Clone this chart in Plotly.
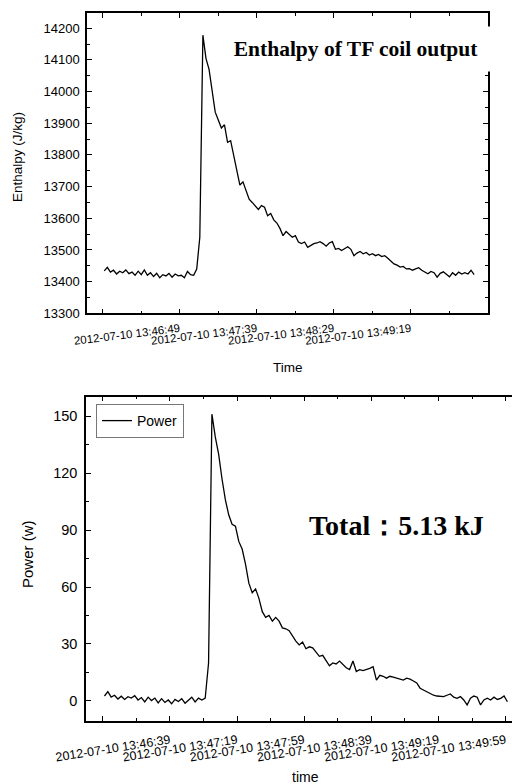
import pandas as pd
import plotly.graph_objects as go

# sample times: one reading every 2 s, 13:46:00 .. 13:50:00
times = pd.date_range("2012-07-10 13:46:00", "2012-07-10 13:50:00", freq="2s")

enthalpy = [
    13434, 13445, 13430, 13436, 13424, 13433, 13428, 13437, 13425, 13430,
    13420, 13433, 13422, 13437, 13420, 13428, 13416, 13426, 13412, 13422,
    13418, 13426, 13414, 13424, 13418, 13420, 13412, 13432, 13422, 13420,
    13440, 13540, 14178, 14105, 14070, 14000, 13935, 13910, 13885, 13895,
    13840, 13845, 13800, 13760, 13705, 13715, 13690, 13660, 13650, 13640,
    13628, 13640, 13635, 13608, 13615, 13595, 13585, 13568, 13545, 13558,
    13548, 13540, 13545, 13525, 13520, 13525, 13508, 13515, 13520, 13522,
    13526, 13520, 13512, 13522, 13526, 13502, 13505, 13498, 13503, 13510,
    13502, 13482, 13490, 13495, 13488, 13492, 13484, 13488, 13482, 13486,
    13479, 13482, 13474, 13465, 13456, 13452, 13446, 13448, 13440, 13441,
    13436, 13440, 13444, 13436, 13430, 13425, 13432, 13428, 13414, 13426,
    13431, 13422, 13415, 13428, 13420, 13430, 13424, 13428, 13424, 13436,
    13422,
]

power = [
    2.6, 4.9, 2.0, 3.0, 1.0, 2.5, 0.8, 2.2, 1.5, 2.8,
    0.5, 1.8, -0.5, 2.0, 0.2, 1.5, -1.0, 1.2, -0.8, 0.5,
    -1.5, 0.8, -0.3, 1.2, -1.2, 0.4, 2.0, -0.5, 1.5, 0.5,
    1.5, 20, 151, 139, 130, 117, 106, 98, 93, 92,
    84, 80, 72, 62, 57, 59, 54, 47, 44, 45,
    42, 44, 42, 38.5, 38, 37, 34, 31.5, 29.5, 31,
    27.5, 28.5, 28, 25.5, 23.5, 24, 21, 18.5, 20, 19.5,
    21, 19, 17.5, 16.5, 21, 15.5, 16.5, 16, 16.5, 17.2,
    18, 11, 13.5, 13, 12, 13, 12.5, 12, 11.5, 11,
    12, 11.5, 10.5, 9.5, 6.7, 5.8, 4.9, 3.8, 3.0, 2.6,
    2.4, 2.3, 3.0, 3.7, 2.0, 1.4, 2.3, 0.5, -2.1, 1.5,
    2.6, 2.0, -2.1, 0.5, 1.4, 0.5, 2.0, 0.8, 1.4, 2.6,
    -0.4,
]

top_ticks = ["2012-07-10 13:45:59", "2012-07-10 13:46:49", "2012-07-10 13:47:39",
             "2012-07-10 13:48:29", "2012-07-10 13:49:19"]
top_labels = ["", "2012-07-10 13:46:49", "2012-07-10 13:47:39",
              "2012-07-10 13:48:29", "2012-07-10 13:49:19"]
bottom_ticks = ["2012-07-10 13:45:59", "2012-07-10 13:46:39", "2012-07-10 13:47:19",
                "2012-07-10 13:47:59", "2012-07-10 13:48:39", "2012-07-10 13:49:19",
                "2012-07-10 13:49:59"]
bottom_labels = [""] + bottom_ticks[1:]

SANS = "Liberation Sans, Arial, sans-serif"
SERIF = "Liberation Serif, Times New Roman, serif"

# the page body adds an 8px margin, so the figure is 8px smaller on each axis
W, H, PAD = 512, 776, 8


def px(x):
    return (x - PAD) / W


def py(y):
    return 1 - (y - PAD) / H


fig = go.Figure()
fig.add_trace(go.Scatter(x=times, y=enthalpy, mode="lines", name="Enthalpy",
                         line=dict(color="black", width=1.3), showlegend=False,
                         xaxis="x", yaxis="y"))
fig.add_trace(go.Scatter(x=times, y=power, mode="lines", name="Power",
                         line=dict(color="black", width=1.3),
                         xaxis="x2", yaxis="y2"))


def axis(**kw):
    base = dict(showgrid=False, zeroline=False, showline=True, linecolor="black",
                linewidth=1.5, mirror="allticks", ticks="inside", ticklen=5,
                tickcolor="black", tickwidth=1.2, automargin=False)
    base.update(kw)
    return base


def label(text, x, y, size, family=SANS, angle=0, **kw):
    return dict(text=text, xref="paper", yref="paper", x=px(x), y=py(y),
                xanchor="center", yanchor="middle", showarrow=False,
                textangle=angle, font=dict(family=family, size=size), **kw)


fig.update_layout(
    width=W, height=H,
    margin=dict(l=0, r=0, t=0, b=0, autoexpand=False),
    paper_bgcolor="white", plot_bgcolor="white",
    font=dict(family=SANS, color="black"),
    xaxis=axis(domain=[px(87), px(488)], anchor="y", type="date",
               range=["2012-07-10 13:45:48.8", "2012-07-10 13:50:09"],
               tickmode="array", tickvals=top_ticks, ticktext=top_labels,
               tickangle=-7, tickfont=dict(size=11.5), ticklabelstandoff=3,
               minor=dict(tickmode="linear", tick0="2012-07-10 13:45:59", dtick=25000,
                          ticks="inside", ticklen=3, tickcolor="black")),
    yaxis=axis(domain=[py(313.3), py(13)], anchor="x", range=[13300, 14248],
               dtick=100, tick0=13300, tickformat="d", tickfont=dict(size=13),
               ticklabelstandoff=3,
               minor=dict(dtick=50, ticks="inside", ticklen=3, tickcolor="black")),
    xaxis2=axis(domain=[px(86), 1.0], anchor="y2", type="date",
                range=["2012-07-10 13:45:49", "2012-07-10 13:50:07.5"],
                tickmode="array", tickvals=bottom_ticks, ticktext=bottom_labels,
                tickangle=-9, tickfont=dict(size=12.5), ticklabelstandoff=6,
                minor=dict(tickmode="linear", tick0="2012-07-10 13:45:59", dtick=20000,
                           ticks="inside", ticklen=3, tickcolor="black")),
    yaxis2=axis(domain=[py(720.7), py(396.7)], anchor="x2", range=[-10.4, 160.2],
                dtick=30, tick0=0, tickformat="d", tickfont=dict(size=14.5),
                ticklabelstandoff=4,
                minor=dict(dtick=15, ticks="inside", ticklen=3, tickcolor="black")),
    legend=dict(x=px(96), y=py(404), xanchor="left", yanchor="top",
                bordercolor="#777777", borderwidth=1, bgcolor="white",
                font=dict(size=14), itemwidth=30),
    annotations=[
        label("<b>Enthalpy of TF coil output</b>", 355.5, 49, 21.5, family=SERIF,
              bgcolor="white", width=272, height=44, borderpad=0),
        label("<b>Total：5.13 kJ</b>", 396, 525, 28, family=SERIF),
        label("Enthalpy (J/kg)", 17.5, 157.5, 13.5, angle=-90),
        label("Time", 288, 367, 13.5),
        label("Power (w)", 27, 554, 15, angle=-90),
        label("time", 305, 777, 14),
    ],
)

fig.write_html("out.html")
